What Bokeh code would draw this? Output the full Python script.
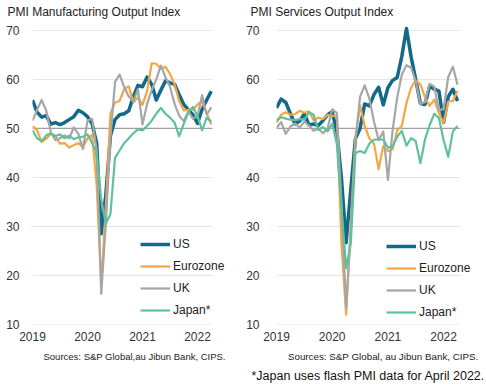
import pandas as pd
from bokeh.plotting import figure
from bokeh.layouts import row
from bokeh.models import Range1d, FixedTicker, Legend, LegendItem, Title
from bokeh.embed import file_html
from bokeh.resources import INLINE

FONT = "Liberation Sans"

# Monthly dates Jan 2019 - Apr 2022
dates = pd.date_range("2019-01-01", "2022-04-01", freq="MS")
xdec = [d.year + (d.month - 1) / 12 for d in dates]

year_ticks = [2019, 2020, 2021, 2022]
year_labels = ["2019", "2020", "2021", "2022"]
y_ticks = [10, 20, 30, 40, 50, 60, 70]

series_names = ["US", "Eurozone", "UK", "Japan*"]
series_colors = ["#12698a", "#f3a644", "#a6a6a6", "#5ec09e"]
series_widths = [3.5, 2.2, 2.2, 2.2]

# PMI Manufacturing Output Index
mfg_us = [55.8, 53.3, 52.3, 52.6, 50.9, 51.2, 50.8, 51.2, 51.8, 52.4, 53.7, 53.2,
          52.4, 51.0, 47.0, 28.5, 36.5, 48.5, 51.8, 52.8, 53.0, 53.6, 56.5, 58.8,
          58.5, 60.5, 59.0, 55.8, 57.8, 59.7, 59.3, 59.0, 56.9, 54.9, 53.8, 52.8,
          51.0, 53.9, 55.8, 57.6]
mfg_ez = [50.5, 49.6, 47.2, 47.9, 48.9, 48.5, 46.9, 47.0, 46.1, 46.6, 47.0, 46.1,
          48.0, 48.7, 38.5, 18.1, 34.0, 53.0, 55.3, 55.6, 58.0, 58.6, 55.3, 56.3,
          54.8, 57.6, 63.3, 63.2, 62.2, 62.6, 61.1, 59.0, 55.6, 53.7, 53.8, 53.8,
          54.9, 55.5, 53.1, 50.8]
mfg_uk = [51.6, 53.8, 55.8, 53.6, 49.2, 47.6, 48.0, 48.6, 48.0, 50.2, 48.9, 45.8,
          51.6, 52.0, 45.5, 16.3, 30.5, 48.0, 59.5, 61.0, 58.5, 56.5, 55.5, 58.0,
          50.8, 55.0, 57.8, 60.0, 62.8, 60.5, 58.5, 55.0, 52.6, 51.5, 53.5, 52.0,
          52.5, 56.8, 52.8, 54.3]
mfg_jp = [49.6, 48.0, 47.4, 48.6, 49.0, 48.4, 48.8, 48.0, 48.5, 47.8, 48.2, 48.3,
          48.8, 47.0, 45.0, 35.5, 30.6, 32.5, 44.0, 45.5, 47.0, 48.0, 49.0, 49.8,
          49.6, 50.5, 51.6, 53.0, 54.2, 53.0, 52.2, 51.2, 48.4, 51.0, 53.3, 54.4,
          52.5, 49.6, 52.2, 51.4]

# PMI Services Output Index
svc_us = [54.2, 56.0, 55.3, 53.0, 50.9, 51.5, 53.0, 50.7, 50.9, 50.6, 51.6, 52.8,
          53.4, 49.4, 39.8, 26.7, 37.5, 47.9, 50.0, 55.0, 54.6, 56.9, 58.4, 54.8,
          58.3, 59.8, 60.4, 64.7, 70.4, 64.6, 59.9, 55.1, 54.9, 58.7, 58.0, 57.6,
          51.2, 56.5, 58.0, 55.6]
svc_ez = [51.2, 52.8, 53.3, 52.8, 52.9, 53.6, 53.2, 53.5, 51.6, 52.2, 51.9, 52.8,
          52.5, 52.6, 26.4, 12.0, 30.5, 48.3, 54.7, 50.5, 48.0, 46.9, 41.7, 46.4,
          45.4, 45.7, 49.6, 50.5, 55.2, 58.3, 59.8, 59.0, 56.4, 54.6, 55.9, 53.1,
          51.1, 55.5, 55.6, 57.7]
svc_uk = [50.1, 51.3, 48.9, 50.4, 51.0, 50.2, 51.4, 50.6, 49.5, 50.0, 49.0, 50.0,
          53.9, 53.2, 34.5, 13.4, 29.0, 47.1, 56.5, 58.8, 56.1, 51.4, 47.6, 49.4,
          39.5, 49.5, 56.3, 61.0, 62.9, 62.4, 59.6, 55.0, 55.4, 59.1, 58.5, 53.6,
          54.1, 60.5, 62.6, 58.9]
svc_jp = [51.6, 52.3, 52.0, 51.8, 51.7, 51.9, 51.8, 53.3, 52.8, 49.7, 50.3, 49.4,
          51.0, 46.8, 33.8, 21.5, 26.5, 45.0, 45.4, 45.0, 46.9, 47.7, 47.8, 47.7,
          46.1, 46.3, 48.3, 49.5, 46.5, 48.0, 47.4, 42.9, 47.8, 50.7, 53.0, 52.1,
          47.6, 44.2, 49.4, 50.5]

title_left = "PMI Manufacturing Output Index"
title_right = "PMI Services Output Index"
source_left = "Sources: S&P Global,au Jibun Bank, CIPS."
source_right = "Sources: S&P Global, au Jibun Bank, CIPS."
footnote = "*Japan uses flash PMI data for April 2022."


def make_panel(series, x_end, grid_end, mb_left, title, title_off, legend_x, legend_y, ystand):
    p = figure(width=243, height=389,
               x_range=Range1d(2019.0, x_end), y_range=Range1d(10, 71.82),
               output_backend="svg", toolbar_location=None,
               min_border_left=mb_left, min_border_right=0,
               min_border_top=18, min_border_bottom=65)
    p.outline_line_color = None
    p.background_fill_color = "white"
    p.xgrid.grid_line_color = None
    p.ygrid.grid_line_color = None
    p.yaxis.ticker = FixedTicker(ticks=y_ticks)
    p.xaxis.ticker = FixedTicker(ticks=year_ticks)
    p.xaxis.major_label_overrides = {t: l for t, l in zip(year_ticks, year_labels)}
    for ax in (p.xaxis, p.yaxis):
        ax.axis_line_color = None
        ax.major_tick_line_color = None
        ax.minor_tick_line_color = None
        ax.major_tick_out = 0
        ax.major_tick_in = 0
        ax.minor_tick_out = 0
        ax.minor_tick_in = 0
        ax.major_label_text_font = FONT
        ax.major_label_text_font_size = "12px"
        ax.major_label_text_color = "#333333"
    p.yaxis.major_label_standoff = ystand
    p.xaxis.major_label_standoff = 7

    # horizontal gridlines limited to the data span
    n = len(y_ticks)
    p.segment(x0=[2019.0] * n, x1=[grid_end] * n, y0=y_ticks, y1=y_ticks,
              line_color="#e4e4e4", line_width=1)
    p.segment(x0=[2019.0], x1=[grid_end], y0=[50], y1=[50],
              line_color="#a0a0a0", line_width=1.3)

    items = []
    for vals, name, col, w in zip(series, series_names, series_colors, series_widths):
        r = p.line(xdec, vals, line_color=col, line_width=w, line_join="round")
        items.append(LegendItem(label=name, renderers=[r]))
    leg = Legend(items=items, location=(legend_x, legend_y), orientation="vertical",
                 glyph_width=30, glyph_height=16, label_height=16, spacing=6,
                 padding=0, margin=0, label_standoff=3,
                 border_line_color=None, background_fill_alpha=0,
                 label_text_font=FONT, label_text_font_size="12px",
                 label_text_color="#222222")
    p.add_layout(leg)
    p.add_layout(Title(text=title, align="left", offset=title_off, standoff=5,
                       text_font=FONT, text_font_size="12px", text_font_style="normal",
                       text_color="#222222"), "above")
    return p


p1 = make_panel([mfg_us, mfg_ez, mfg_uk, mfg_jp], 2022.836, 2022.27, 32,
                title_left, -25, 108, 6, 13)
p2 = make_panel([svc_us, svc_ez, svc_uk, svc_jp], 2022.77, 2022.30, 33,
                title_right, -26, 110, 4, 17)

p1.add_layout(Title(text=source_left, align="left", offset=11, standoff=10,
                    text_font=FONT, text_font_size="9.5px", text_font_style="normal",
                    text_color="#222222"), "below")
p2.add_layout(Title(text=source_right, align="right", offset=8, standoff=10,
                    text_font=FONT, text_font_size="9.8px", text_font_style="normal",
                    text_color="#222222"), "below")
p2.add_layout(Title(text=footnote, align="left", offset=-25, standoff=4,
                    vertical_align="top",
                    text_font=FONT, text_font_size="12.5px", text_font_style="normal",
                    text_color="#111111"), "below")

layout = row(p1, p2)
open("out.html", "w").write(file_html(layout, INLINE))
